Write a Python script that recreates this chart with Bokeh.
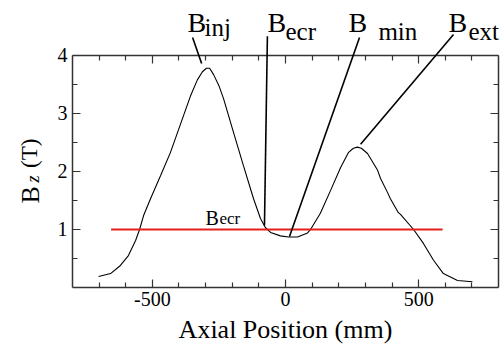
import math
from bokeh.plotting import figure
from bokeh.models import Range1d, LinearAxis, FixedTicker, Label, Arrow
from bokeh.embed import file_html
from bokeh.resources import INLINE

# ---- data ----
x_pos = [-702, -657, -620, -590, -563, -548, -533, -507, -469, -432, -394, -357,
         -331, -312, -297, -285, -270, -250, -233, -195, -158, -120, -94, -75, -56,
         -19, 11, 45, 83, 94, 131, 169, 207, 237, 255, 270, 285, 308, 346, 357, 383,
         394, 424, 432, 481, 518, 556, 593, 646, 702]
bz = [0.19, 0.24, 0.38, 0.55, 0.81, 1.00, 1.24, 1.53, 1.93, 2.33, 2.82, 3.30,
      3.58, 3.72, 3.78, 3.78, 3.67, 3.48, 3.26, 2.67, 2.10, 1.53, 1.19, 1.03, 0.95,
      0.89, 0.87, 0.87, 0.94, 1.00, 1.28, 1.67, 2.07, 2.33, 2.40, 2.42, 2.40, 2.31,
      2.02, 1.88, 1.64, 1.53, 1.29, 1.26, 1.00, 0.76, 0.47, 0.24, 0.12, 0.10]
ecr_x = [-655, 590]
ecr_b = [1.0, 1.0]

x_bounds = (-800, 800)
y_bounds = (0, 4)
x_major = [-500, 0, 500]
x_labels = {-500: "-500", 0: "0", 500: "500"}
x_minor = [-700, -600, -400, -300, -200, -100, 100, 200, 300, 400, 600, 700]
y_major = [1, 2, 3, 4]
y_minor = [0.5, 1.5, 2.5, 3.5]

# callouts: (letter, subscript, letter pos, subscript pos, line start, line end on curve)
callouts = [
    ("B", "inj", (-368, 4.57), (-304, 4.48), (-349, 4.31), (-315, 3.86)),
    ("B", "ecr", (-68, 4.57), (0, 4.41), (-68, 4.33), (-79, 1.07)),
    ("B", "min", (237, 4.57), (349, 4.41), (278, 4.31), (15, 0.88)),
    ("B", "ext", (612, 4.57), (687, 4.41), (631, 4.36), (282, 2.47)),
]

SERIF = "Liberation Serif"
AX = "#333333"

# whole canvas is the frame; axes are pinned to the data box
p = figure(width=500, height=345, x_range=Range1d(-1070.4, 807.5), y_range=Range1d(-1.0, 4.948),
           output_backend="svg", toolbar_location=None,
           x_axis_location=None, y_axis_location=None,
           min_border_left=0, min_border_right=0, min_border_top=0, min_border_bottom=0)
p.grid.visible = False
p.outline_line_color = None
p.background_fill_color = "white"
p.border_fill_color = "white"

bottom = LinearAxis(fixed_location=0, bounds=x_bounds,
                    ticker=FixedTicker(ticks=x_major, minor_ticks=x_minor),
                    major_label_overrides=x_labels)
top = LinearAxis(fixed_location=4, bounds=x_bounds,
                 ticker=FixedTicker(ticks=x_major, minor_ticks=x_minor),
                 major_label_overrides={t: "" for t in x_major})
left = LinearAxis(fixed_location=-800, bounds=y_bounds,
                  ticker=FixedTicker(ticks=y_major, minor_ticks=y_minor))
right = LinearAxis(fixed_location=800, bounds=y_bounds,
                   ticker=FixedTicker(ticks=y_major, minor_ticks=y_minor),
                   major_label_overrides={t: "" for t in y_major})
p.add_layout(bottom, "below")
p.add_layout(top, "above")
p.add_layout(left, "left")
p.add_layout(right, "right")

for ax in (bottom, top, left, right):
    ax.axis_line_color = AX
    ax.axis_line_width = 1.5
    ax.major_tick_line_color = AX
    ax.minor_tick_line_color = AX
    ax.major_tick_line_width = 1.2
    ax.minor_tick_line_width = 1.2
    ax.major_tick_in = 8
    ax.major_tick_out = 0
    ax.minor_tick_in = 5
    ax.minor_tick_out = 0
    ax.major_label_text_font = SERIF
    ax.major_label_text_font_size = "20px"
    ax.major_label_text_color = "black"
    ax.major_label_standoff = 5

bottom.axis_label = "Axial Position (mm)"
bottom.axis_label_text_font = SERIF
bottom.axis_label_text_font_size = "26px"
bottom.axis_label_text_font_style = "normal"
bottom.axis_label_text_color = "black"
bottom.axis_label_standoff = 5

# curve and Becr level line
p.line(x_pos, bz, line_color="black", line_width=1.1)
p.line(ecr_x, ecr_b, line_color="#e3201b", line_width=2)

# inner Becr label
p.add_layout(Label(x=-300, y=1.20, text="B", text_font=SERIF, text_font_size="20px",
                   text_color="black", text_baseline="alphabetic"))
p.add_layout(Label(x=-248, y=1.19, text="ecr", text_font=SERIF, text_font_size="17px",
                   text_color="black", text_baseline="alphabetic"))

# callouts above the frame
for big, sub, bpos, spos, l0, l1 in callouts:
    p.add_layout(Label(x=bpos[0], y=bpos[1], text=big, text_font=SERIF, text_font_size="28px",
                       text_color="black", text_baseline="alphabetic"))
    p.add_layout(Label(x=spos[0], y=spos[1], text=sub, text_font=SERIF, text_font_size="25px",
                       text_color="black", text_baseline="alphabetic"))
    p.add_layout(Arrow(x_start=l0[0], y_start=l0[1], x_end=l1[0], y_end=l1[1],
                       start=None, end=None, line_color="black", line_width=1.6))

# y axis title B_Z (T), rotated
p.add_layout(Label(x=-958, y=1.45, text="B", text_font=SERIF, text_font_size="26px",
                   text_color="black", angle=math.pi / 2, text_baseline="alphabetic"))
p.add_layout(Label(x=-950, y=1.81, text="z", text_font=SERIF, text_font_size="18px",
                   text_font_style="italic", text_color="black", angle=math.pi / 2,
                   text_baseline="alphabetic"))
p.add_layout(Label(x=-961, y=2.06, text="(T)", text_font=SERIF, text_font_size="23px",
                   text_color="black", angle=math.pi / 2, text_baseline="alphabetic"))

open("out.html", "w").write(file_html(p, INLINE))
